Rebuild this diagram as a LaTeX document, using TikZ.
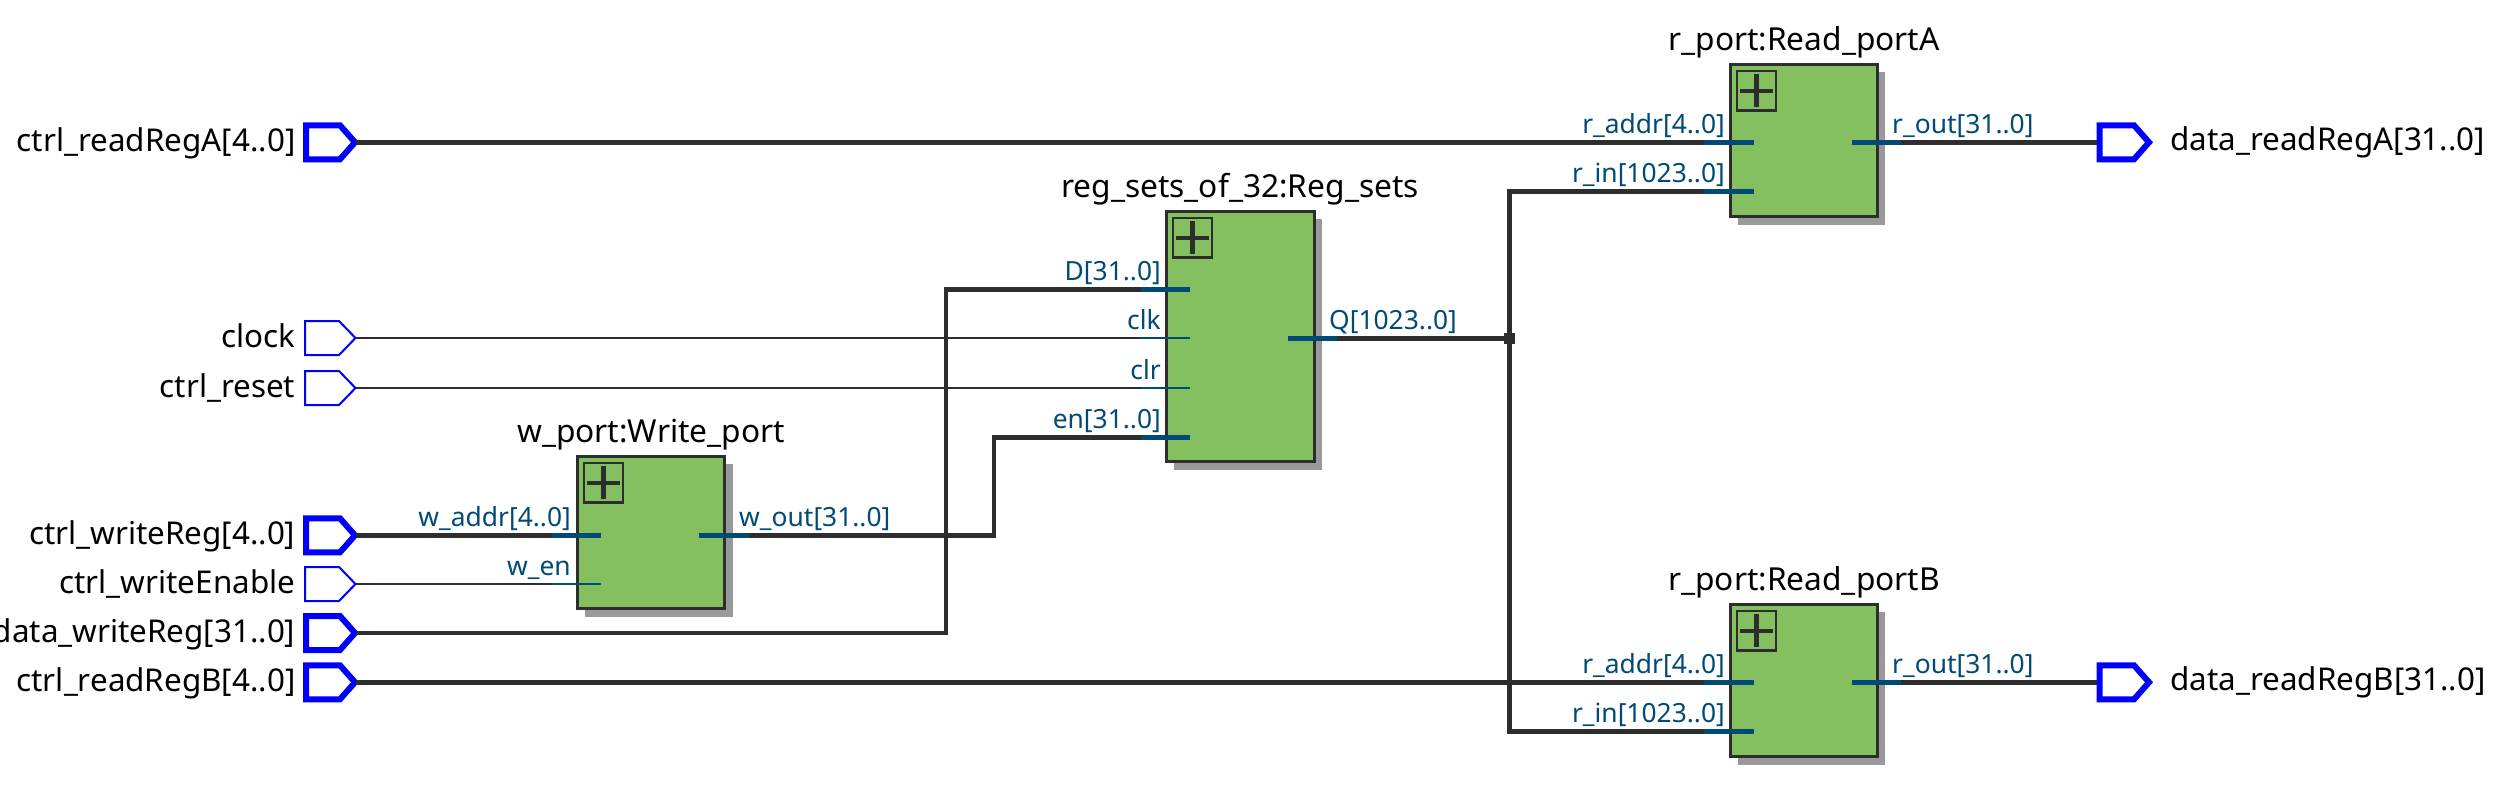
\documentclass[tikz,border=0pt]{standalone}
\usepackage{fontspec}
\setmainfont{Noto Sans}
\definecolor{wirec}{HTML}{2D2D2D}
\definecolor{portc}{HTML}{004A75}
\definecolor{pinc}{HTML}{0000FF}
\definecolor{greenc}{HTML}{84BF60}
\definecolor{shadowc}{HTML}{999999}
\tikzset{
  thickw/.style={draw=wirec,line width=4.7pt},
  thinw/.style={draw=wirec,line width=1.7pt},
  thickstub/.style={draw=portc,line width=4.7pt},
  thinstub/.style={draw=portc,line width=1.7pt},
  thickpin/.style={draw=pinc,line width=6pt,fill=white},
  thinpin/.style={draw=pinc,line width=2pt,fill=white},
  pintext/.style={inner sep=0pt,font=\fontsize{31.4}{34}\selectfont,text=black},
  porttext/.style={inner sep=0pt,font=\fontsize{26.4}{29}\selectfont,text=portc},
  titletext/.style={inner sep=0pt,font=\fontsize{31.7}{34}\selectfont,text=black,anchor=base},
  blockbody/.style={draw=wirec,line width=3pt,fill=greenc,inner sep=0pt,outer sep=0pt,anchor=north west,rectangle},
  blockshadow/.style={fill=shadowc,inner sep=0pt,outer sep=0pt,anchor=north west,rectangle},
  plusbox/.style={draw=wirec,line width=2.5pt,inner sep=0pt,outer sep=0pt,minimum width=39pt,minimum height=39.5pt,anchor=north west,rectangle},
  plusbar/.style={draw=wirec,line width=4.5pt},
}
% name, x, y, width, height, title, title-centre x, title baseline y
\newcommand{\blockat}[8]{%
  \node[blockshadow,minimum width=#4pt,minimum height=#5pt] (#1shadow) at (#2+8,#3+8) {};
  \node[blockbody,minimum width=#4pt,minimum height=#5pt] (#1) at (#2,#3) {};
  \node[plusbox] (#1plus) at (#2+7,#3+7) {};
  \draw[plusbar] ([xshift=-16.5pt]#1plus.center) -- ([xshift=16.5pt]#1plus.center);
  \draw[plusbar] ([yshift=-16.5pt]#1plus.center) -- ([yshift=16.5pt]#1plus.center);
  \node[titletext] (#1title) at (#7,#8) {#6};
}
% input pin: name, y, style, label, left x, corner x, tip x
\newcommand{\inpin}[7]{%
  \draw[#3] (#5,#2-17) -- (#6,#2-17) -- (#7,#2) -- (#6,#2+17) -- (#5,#2+17) -- cycle;
  \coordinate (#1) at (356,#2);
  \node[pintext,anchor=base east] (#1text) at (295.5,#2+9) {#4};
}
% output pin: name, y, label
\newcommand{\outpin}[3]{%
  \draw[thickpin] (2099.5,#2-17) -- (2134,#2-17) -- (2149,#2) -- (2134,#2+17) -- (2099.5,#2+17) -- cycle;
  \coordinate (#1) at (2097,#2);
  \node[pintext,anchor=base west] (#1text) at (2170,#2+8) {#3};
}
% port: coordinate name, far x, y, inner x, label anchor, label x, label
\newcommand{\portstub}[7]{%
  \coordinate (#1) at (#4,#3);
  \coordinate (#1far) at (#2,#3);
  \node[porttext,anchor=#5] (#1text) at (#6,#3-9) {#7};
}
\begin{document}
\begin{tikzpicture}[x=1pt,y=-1pt]
\useasboundingbox (0,0) rectangle (2494,801);

% blocks
\blockat{wport}{577}{456}{147.5}{152.5}{w\_port:Write\_port}{651}{442}
\blockat{regs}{1166}{211}{148}{250.5}{reg\_sets\_of\_32:Reg\_sets}{1240}{197.7}
\blockat{rpa}{1730}{64}{147}{152.5}{r\_port:Read\_portA}{1804}{50.7}
\blockat{rpb}{1730}{604}{147}{152.5}{r\_port:Read\_portB}{1804}{590.7}

% pins
\inpin{readA}{142.3}{thickpin}{ctrl\_readRegA[4..0]}{306}{340}{355}
\inpin{clock}{338}{thinpin}{clock}{305}{339}{355.5}
\inpin{reset}{388}{thinpin}{ctrl\_reset}{305}{339}{355.5}
\inpin{wreg}{535.3}{thickpin}{ctrl\_writeReg[4..0]}{306}{340}{355}
\inpin{wen}{584}{thinpin}{ctrl\_writeEnable}{305}{339}{355.5}
\inpin{wdata}{633}{thickpin}{data\_writeReg[31..0]}{306}{340}{355}
\inpin{readB}{682.3}{thickpin}{ctrl\_readRegB[4..0]}{306}{340}{355}
\outpin{outA}{142.3}{data\_readRegA[31..0]}
\outpin{outB}{682.3}{data\_readRegB[31..0]}

% ports
\portstub{waddr}{552}{535.3}{601}{base east}{571}{w\_addr[4..0]}
\portstub{wenp}{552}{584}{601}{base east}{571}{w\_en}
\portstub{wout}{749}{535.3}{699}{base west}{739}{w\_out[31..0]}
\portstub{dp}{1141}{289.3}{1190}{base east}{1161}{D[31..0]}
\portstub{clkp}{1141}{338}{1190}{base east}{1161}{clk}
\portstub{clrp}{1141}{388}{1190}{base east}{1161}{clr}
\portstub{enp}{1141}{437.3}{1190}{base east}{1161}{en[31..0]}
\portstub{qp}{1337}{338.7}{1288}{base west}{1329}{Q[1023..0]}
\portstub{aaddr}{1704}{142.3}{1754}{base east}{1725}{r\_addr[4..0]}
\portstub{ain}{1704}{191.3}{1754}{base east}{1725}{r\_in[1023..0]}
\portstub{aout}{1901}{142.3}{1852}{base west}{1892}{r\_out[31..0]}
\portstub{baddr}{1704}{682.3}{1754}{base east}{1725}{r\_addr[4..0]}
\portstub{bin}{1704}{731.3}{1754}{base east}{1725}{r\_in[1023..0]}
\portstub{bout}{1901}{682.3}{1852}{base west}{1892}{r\_out[31..0]}

% connectors
\coordinate (junction) at (1509.7,338.7);
\draw[thickw] (readA) -- (aaddrfar);
\draw[thickw] (readB) -- (baddrfar);
\draw[thinw] (clock) -- (clkpfar);
\draw[thinw] (reset) -- (clrpfar);
\draw[thickw] (wreg) -- (waddrfar);
\draw[thinw] (wen) -- (wenpfar);
\draw[thickw] (wdata) -| (946,289.3) -- (dpfar);
\draw[thickw] (woutfar) -| (994,437.3) -- (enpfar);
\draw[thickw] (qpfar) -- (junction);
\draw[thickw,line join=miter] (ainfar) -| (junction) |- (binfar);
\draw[thickw] (aoutfar) -- (outA);
\draw[thickw] (boutfar) -- (outB);
\node[fill=wirec,inner sep=0pt,minimum size=11pt,rectangle] (junctiondot) at (junction) {};

% stubs
\foreach \p in {waddr,wout,dp,enp,qp,aaddr,ain,aout,baddr,bin,bout}
  \draw[thickstub] (\p far) -- (\p);
\foreach \p in {wenp,clkp,clrp}
  \draw[thinstub] (\p far) -- (\p);
\end{tikzpicture}
\end{document}
